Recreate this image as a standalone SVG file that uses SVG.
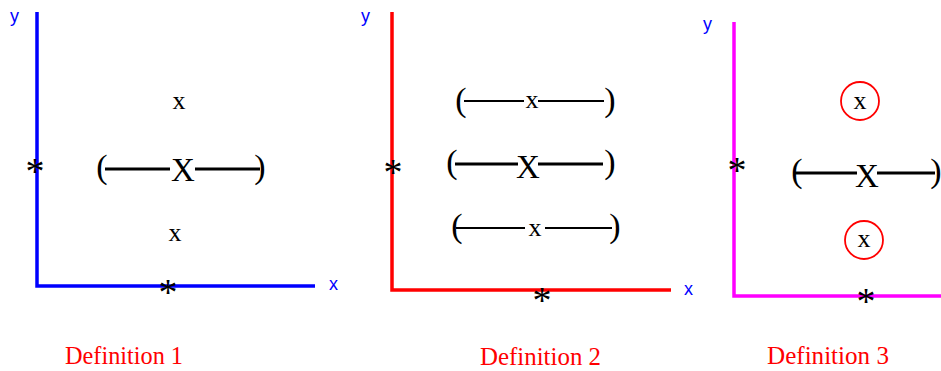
<svg xmlns="http://www.w3.org/2000/svg" width="941" height="371" viewBox="0 0 941 371">
<style>
.axis{fill:none;stroke-width:3.5;stroke-linecap:butt}
.lbl{font-family:"Liberation Sans",Arial,sans-serif;font-size:18px;fill:#0000ff}
.t{font-family:"Liberation Serif","Times New Roman",serif;fill:#000;text-anchor:middle}
.sx{font-size:26px}
.bx{font-size:33px}
.par{font-size:34px}
.ast{font-size:38px}
.bar{stroke:#000;stroke-width:3}
.thin{stroke:#000;stroke-width:1.8}
.ring{fill:none;stroke:#ff0000;stroke-width:1.8}
.def{font-family:"Liberation Serif","Times New Roman",serif;font-size:26px;fill:#ff0000}
</style>

<g id="panel1">
  <polyline class="axis" stroke="#0000ff" points="37,12 37,286 315,286"/>
  <text class="lbl" x="10" y="22">y</text>
  <text class="lbl" x="329" y="290">x</text>
  <text class="t ast" x="35" y="184">*</text>
  <text class="t ast" x="168" y="305">*</text>
  <text class="t sx" x="179" y="109">x</text>
  <line class="bar" x1="105" y1="169" x2="170" y2="169"/>
  <line class="bar" x1="195" y1="169" x2="260" y2="169"/>
  <text class="t par" x="102" y="178">(</text>
  <text class="t par" x="260" y="178">)</text>
  <text class="t bx" x="183" y="181">X</text>
  <text class="t sx" x="175" y="241">x</text>
  <text class="def" x="65" y="364" textLength="118" lengthAdjust="spacingAndGlyphs">Definition 1</text>
</g>

<g id="panel2">
  <polyline class="axis" stroke="#ff0000" points="392,12 392,290 671,290"/>
  <text class="lbl" x="361" y="22">y</text>
  <text class="lbl" x="684" y="295">x</text>
  <text class="t ast" x="393" y="185">*</text>
  <text class="t ast" x="542" y="313">*</text>
  <line class="thin" x1="464" y1="101" x2="524" y2="101"/>
  <line class="thin" x1="538" y1="101" x2="604" y2="101"/>
  <text class="t par" x="461" y="111">(</text>
  <text class="t par" x="610" y="111">)</text>
  <text class="t sx" x="532" y="108">x</text>
  <line class="bar" x1="455" y1="164" x2="518" y2="164"/>
  <line class="bar" x1="538" y1="164" x2="603" y2="164"/>
  <text class="t par" x="452" y="173">(</text>
  <text class="t par" x="610" y="173">)</text>
  <text class="t bx" x="528" y="178">X</text>
  <line class="thin" x1="456" y1="228" x2="525" y2="228"/>
  <line class="thin" x1="545" y1="228" x2="612" y2="228"/>
  <text class="t par" x="457" y="237">(</text>
  <text class="t par" x="615" y="237">)</text>
  <text class="t sx" x="535" y="236">x</text>
  <text class="def" x="480" y="365" textLength="121" lengthAdjust="spacingAndGlyphs">Definition 2</text>
</g>

<g id="panel3">
  <polyline class="axis" stroke="#ff00ff" stroke-width="4" points="734,22 734,296 941,296"/>
  <text class="lbl" x="703" y="30">y</text>
  <text class="t ast" x="737" y="183">*</text>
  <text class="t ast" x="866" y="314">*</text>
  <circle class="ring" cx="860" cy="101" r="19"/>
  <text class="t sx" x="860" y="109">x</text>
  <line class="bar" x1="795" y1="173" x2="857" y2="173"/>
  <line class="bar" x1="877" y1="173" x2="935" y2="173"/>
  <text class="t par" x="797" y="182">(</text>
  <text class="t par" x="936" y="182">)</text>
  <text class="t bx" x="867" y="187">X</text>
  <circle class="ring" cx="864" cy="240" r="19"/>
  <text class="t sx" x="864" y="247">x</text>
  <text class="def" x="767" y="364" textLength="122" lengthAdjust="spacingAndGlyphs">Definition 3</text>
</g>
</svg>
